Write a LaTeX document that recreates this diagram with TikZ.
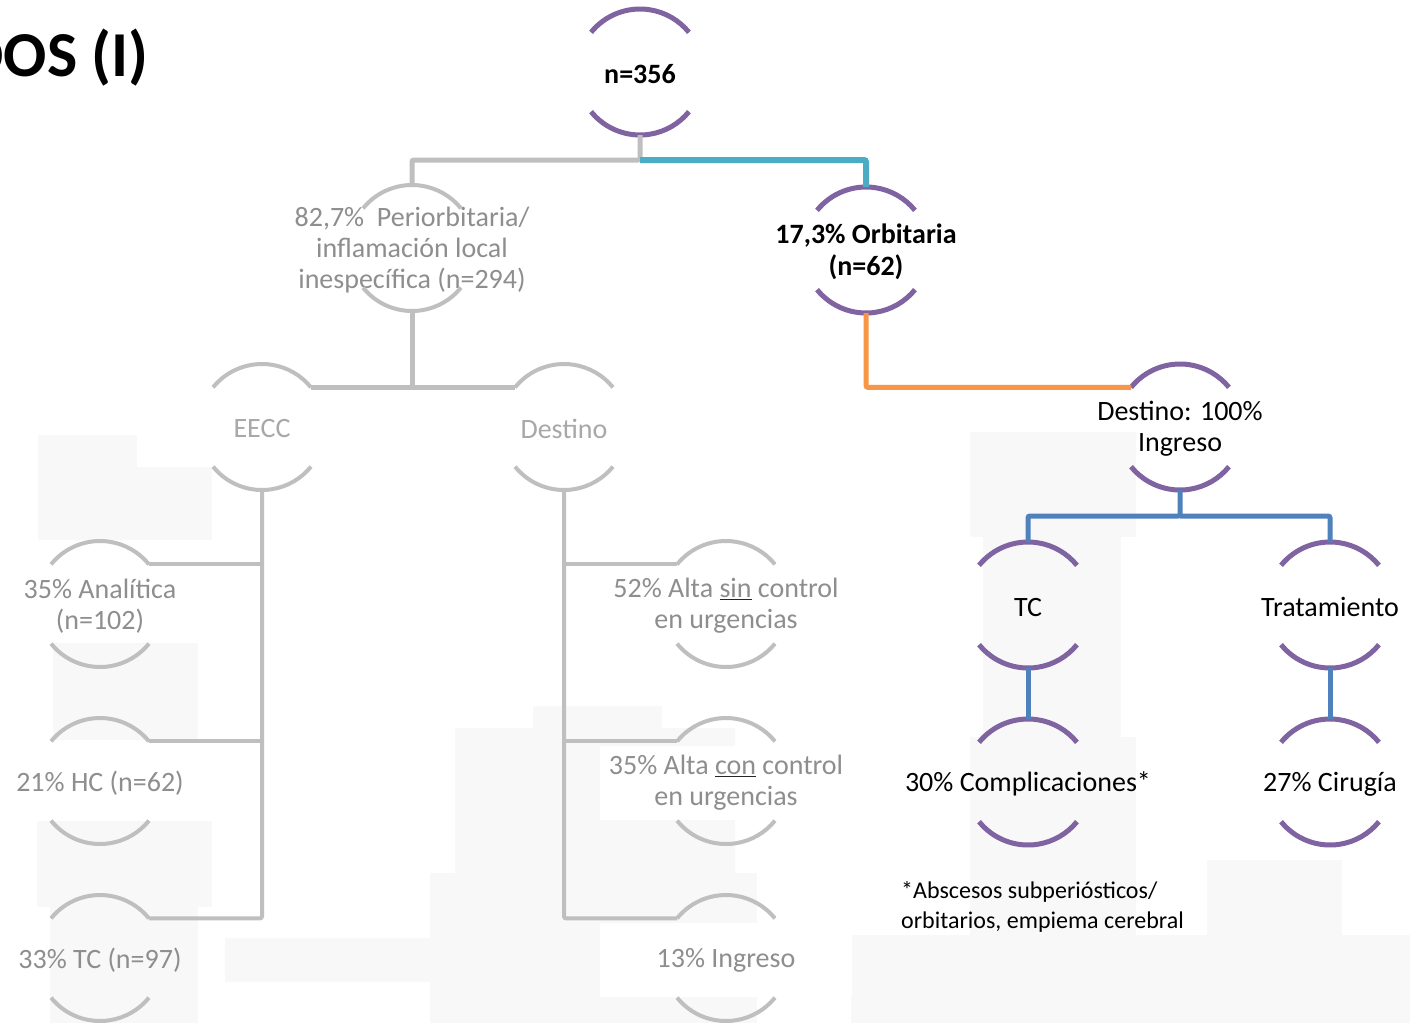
\documentclass[tikz,border=0pt]{standalone}
\usepackage{fontspec}
\setmainfont{Carlito}
\usetikzlibrary{calc}
\definecolor{purp}{HTML}{8064A2}
\definecolor{tealc}{HTML}{4BACC6}
\definecolor{orangec}{HTML}{F79646}
\definecolor{bluec}{HTML}{4F81BD}
\definecolor{greyc}{HTML}{BFBFBF}
\definecolor{txtgrey}{HTML}{8E8E8E}
\definecolor{txtlight}{HTML}{A8A8A8}
\definecolor{bgrey}{HTML}{F8F8F8}
\tikzset{
  lbl/.style={align=center, font=\fontsize{28}{31}\selectfont, inner sep=0pt, yshift=-2pt},
  darklbl/.style={lbl, text=black},
  boldlbl/.style={lbl, text=black, font=\fontsize{28}{32}\selectfont\bfseries},
  greylbl/.style={lbl, text=txtgrey},
  lightlbl/.style={lbl, text=txtlight},
  whitebox/.style={fill=white, minimum width=252pt, minimum height=74pt},
  purparc/.style={draw=purp, line width=5pt},
  greyarc/.style={draw=greyc, line width=4pt},
  tealconn/.style={draw=tealc, line width=6pt, rounded corners=2pt},
  greyconn/.style={draw=greyc, line width=5pt, rounded corners=2pt},
  thingrey/.style={draw=greyc, line width=4pt, rounded corners=2pt},
  orangeconn/.style={draw=orangec, line width=5pt, rounded corners=2pt},
  blueconn/.style={draw=bluec, line width=5pt, rounded corners=2pt},
  bgbox/.style={fill=bgrey, draw=none},
}
% #1 name, #2 position, #3 label style, #4 arc style, #5 text
\newcommand\ringnode[5]{%
  \node[#3] (#1) at (#2) {#5};
  \coordinate (#1-c) at (#2);
  \coordinate (#1-t) at ($(#1-c)+(90:63pt)$);
  \coordinate (#1-b) at ($(#1-c)+(270:63pt)$);
  \coordinate (#1-tl) at ($(#1-c)+(141:63pt)$);
  \coordinate (#1-tr) at ($(#1-c)+(39:63pt)$);
  \draw[#4] (#1-tl) arc[start angle=141,end angle=39,radius=63pt];
  \draw[#4] ($(#1-c)+(219:63pt)$) arc[start angle=219,end angle=321,radius=63pt];
}
\newcommand\ul[1]{{\color{black!85}\underline{\textcolor{txtgrey}{#1}}}}
\begin{document}
\begin{tikzpicture}[x=1pt,y=-1pt]
\path[use as bounding box] (0,0) rectangle (1410,1023);
\clip (0,0) rectangle (1410,1023);
\fill[white] (0,0) rectangle (1410,1023);
% faint background blocks
\fill[bgbox] (38,435) rectangle (137,470);
\fill[bgbox] (38,467) rectangle (212,540);
\fill[bgbox] (53,643) rectangle (198,740);
\fill[bgbox] (37,821) rectangle (212,907);
\fill[bgbox] (50,907) rectangle (198,1023);
\fill[bgbox] (225,938) rectangle (430,982);
\fill[bgbox] (533,706) rectangle (662,728);
\fill[bgbox] (455,728) rectangle (735,873);
\fill[bgbox] (430,873) rectangle (757,1023);
\fill[bgbox] (970,432) rectangle (1136,537);
\fill[bgbox] (983,537) rectangle (1121,737);
\fill[bgbox] (970,737) rectangle (1136,935);
\fill[bgbox] (1207,860) rectangle (1342,935);
\fill[bgbox] (851,935) rectangle (1410,1023);
% title
\node[anchor=base east, inner sep=0pt, font=\fontsize{64}{70}\selectfont\bfseries] (title) at (149,76) {RESULTADOS (I)};
% nodes
\ringnode{n356}{640,72}{boldlbl}{purparc}{n=356}
\ringnode{peri}{412,248}{greylbl}{greyarc}{82,7\%~ Periorbitaria/\\inflamación local\\inespecífica (n=294)}
\ringnode{orb}{866,250}{boldlbl}{purparc}{17,3\% Orbitaria\\(n=62)}
\ringnode{eecc}{262,427}{lightlbl}{greyarc}{EECC}
\ringnode{dest}{564,427}{lightlbl}{greyarc}{Destino}
\ringnode{destc}{1180,427}{darklbl}{purparc}{Destino: 100\%\\Ingreso}
\ringnode{tc}{1028,605}{darklbl}{purparc}{TC}
\ringnode{trat}{1330,605}{darklbl}{purparc}{Tratamiento}
\ringnode{comp}{1028,782}{darklbl}{purparc}{30\% Complicaciones*}
\ringnode{cir}{1330,782}{darklbl}{purparc}{27\% Cirugía}
\ringnode{ana}{100,604}{greylbl}{greyarc}{35\% Analítica\\(n=102)}
\ringnode{hc}{100,781}{greylbl}{greyarc}{21\% HC (n=62)}
\ringnode{tct}{100,958}{greylbl}{greyarc}{33\% TC (n=97)}
\ringnode{sin}{726,604}{greylbl}{greyarc}{52\% Alta \ul{sin} control\\en urgencias}
\ringnode{con}{726,781}{greylbl,whitebox}{greyarc}{35\% Alta \ul{con} control\\en urgencias}
\ringnode{ing}{726,958}{greylbl,whitebox}{greyarc}{13\% Ingreso}
\node[anchor=north west, align=left, inner sep=0pt, font=\fontsize{24}{30}\selectfont] (foot) at (901,881) {*Abscesos subperiósticos/\\orbitarios, empiema cerebral};
% connectors
\draw[greyconn] (n356-b) -- ++(0,25) -| (peri-t);
\draw[tealconn] ($(n356-b)+(0,25)$) -| (orb-t);
\draw[greyconn] (peri-b) -- (peri-b |- eecc-tr);
\draw[greyconn] (eecc-tr) -- (dest-tl);
\draw[orangeconn] (orb-b) |- (destc-tl);
\draw[blueconn] (destc-b) -- ++(0,26) -| (tc-t);
\draw[blueconn] ($(destc-b)+(0,26)$) -| (trat-t);
\draw[blueconn] (tc-b) -- (comp-t);
\draw[blueconn] (trat-b) -- (cir-t);
\draw[thingrey] (eecc-b) |- (tct-tr);
\draw[thingrey] (eecc-b |- ana-tr) -- (ana-tr);
\draw[thingrey] (eecc-b |- hc-tr) -- (hc-tr);
\draw[thingrey] (dest-b) |- (ing-tl);
\draw[thingrey] (dest-b |- sin-tl) -- (sin-tl);
\draw[thingrey] (dest-b |- con-tl) -- (con-tl);
\end{tikzpicture}
\end{document}
